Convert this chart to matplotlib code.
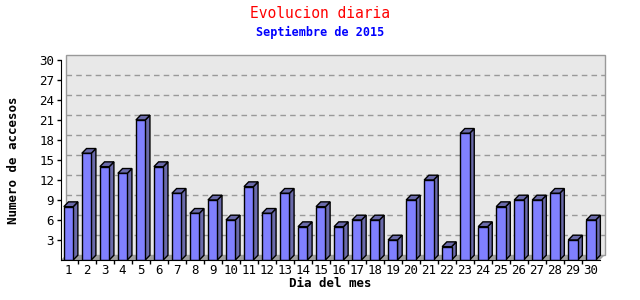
import matplotlib
matplotlib.use('Agg')

import matplotlib.pyplot as plt
from matplotlib.patches import Polygon, Rectangle

# Data
days = list(range(1, 31))
visits = [8, 16, 14, 13, 21, 14, 10, 7, 9, 6, 11, 7, 10, 5, 8,
          5, 6, 6, 3, 9, 12, 2, 19, 5, 8, 9, 9, 10, 3, 6]
yticks = [3, 6, 9, 12, 15, 18, 21, 24, 27, 30]

font = 'DejaVu Sans Mono'

fig = plt.figure(figsize=(6.4, 3.0), dpi=100)
fig.patch.set_facecolor('white')
ax = fig.add_axes([61 / 640, 40 / 300, 539 / 640, 200 / 300])

x0, x1 = 0.583, 30.5
ymax = 30
dx, dy = 0.26, 0.72      # 3D depth offset in data units
w = 0.52                 # bar width

ax.set_xlim(x0, x1)
ax.set_ylim(0, ymax)
ax.set_facecolor('none')

# back wall, floor, grid
ax.add_patch(Rectangle((x0 + dx, dy), x1 - x0, ymax, facecolor='#e8e8e8',
                       edgecolor='#999999', lw=1, clip_on=False, zorder=0))
ax.add_patch(Polygon([(x0, 0), (x1, 0), (x1 + dx, dy), (x0 + dx, dy)],
                     closed=True, facecolor='#a0a0a0', edgecolor='none',
                     clip_on=False, zorder=1))
for t in yticks[:-1]:
    ax.plot([x0 + dx, x1 + dx], [t + dy, t + dy], color='#999999', lw=1,
            ls=(0, (4, 3)), clip_on=False, zorder=1)

# bars
front, shade = '#8080ff', '#6a6aaa'
for d, v in zip(days, visits):
    l, r = d - w / 2, d + w / 2
    ax.add_patch(Polygon([(r, 0), (r + dx, dy), (r + dx, v + dy), (r, v)],
                         closed=True, facecolor=shade, edgecolor='black',
                         lw=1, zorder=3, clip_on=False))
    ax.add_patch(Polygon([(l, v), (r, v), (r + dx, v + dy), (l + dx, v + dy)],
                         closed=True, facecolor=shade, edgecolor='black',
                         lw=1, zorder=3, clip_on=False))
ax.bar(days, visits, width=w, color=front, edgecolor='black', lw=1, zorder=4)

# axes styling
for s in ['top', 'right']:
    ax.spines[s].set_visible(False)
ax.spines['left'].set_color('black')
ax.spines['bottom'].set_color('black')
ax.spines['bottom'].set_zorder(5)

ax.set_yticks(yticks)
ax.set_yticklabels([str(t) for t in yticks], fontsize=9, family=font)
ax.tick_params(axis='y', length=3, width=1, pad=2)

ax.set_xticks(days)
ax.set_xticklabels([str(d) for d in days], fontsize=9, family=font)
ax.set_xticks([d + 0.5 for d in days[:-1]], minor=True)
ax.tick_params(axis='x', which='major', length=0, pad=3)
ax.tick_params(axis='x', which='minor', length=3, width=1)

ax.set_xlabel('Dia del mes', fontsize=9, family=font, fontweight='bold', labelpad=0)
ax.set_ylabel('Numero de accesos', fontsize=9, family=font, fontweight='bold', labelpad=14)

fig.text(0.5, 0.955, 'Evolucion diaria', color='red', fontsize=10.5,
         family=font, ha='center', va='center')
fig.text(0.5, 0.893, 'Septiembre de 2015', color='blue', fontsize=8.5,
         family=font, fontweight='bold', ha='center', va='center')

fig.savefig('out.png', dpi=100)
